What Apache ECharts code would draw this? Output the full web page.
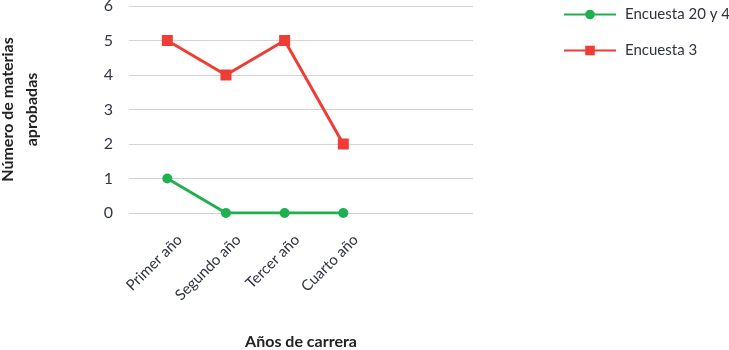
<!DOCTYPE html>
<html><head><meta charset="utf-8">
<script src="https://cdn.jsdelivr.net/npm/echarts@6/dist/echarts.min.js"></script>
<style>html,body{margin:0;padding:0;background:#fff}#c{width:729px;height:350px}</style>
</head><body><div id="c"></div>
<script>
const categories = ['Primer año', 'Segundo año', 'Tercer año', 'Cuarto año'];
const encuesta20y4 = [1, 0, 0, 0];
const encuesta3 = [5, 4, 5, 2];
const yTicks = [0, 1, 2, 3, 4, 5, 6];
const seriesNames = ['Encuesta 20 y 4', 'Encuesta 3'];

const FONT = 'Lato';
const chart = echarts.init(document.getElementById('c'), null, {renderer: 'canvas'});
chart.setOption({
  animation: false,
  textStyle: {fontFamily: FONT},
  legend: {
    orient: 'vertical', left: 558, top: 2, itemWidth: 52, itemHeight: 12, itemGap: 21,
    textStyle: {fontSize: 15, color: '#2f3340', fontFamily: FONT, padding: [0, 0, 0, 4]},
    data: seriesNames
  },
  grid: [
    {left: 129, right: 256, top: 6, bottom: 137, outerBoundsMode: 'none', containLabel: false},
    {left: 167.3, right: 385.7, top: 6, bottom: 137, outerBoundsMode: 'none', containLabel: false}
  ],
  xAxis: [
    {gridIndex: 0, type: 'value', min: 0, max: 1, axisLine: {show: false}, axisTick: {show: false},
     axisLabel: {show: false}, splitLine: {show: false},
     name: 'Años de carrera', nameLocation: 'middle', nameGap: 121,
     nameTextStyle: {fontSize: 16, fontWeight: 'bold', color: '#222', fontFamily: FONT}},
    {gridIndex: 1, type: 'category', data: categories, boundaryGap: false,
     axisLine: {show: false}, axisTick: {show: false}, splitLine: {show: false},
     axisLabel: {rotate: 45, margin: 12, fontSize: 15, color: '#2f3340', interval: 0,
                 verticalAlign: 'top', padding: [10, 0, 0, 0], fontFamily: FONT}}
  ],
  yAxis: [
    {gridIndex: 0, type: 'value', min: yTicks[0], max: yTicks[yTicks.length - 1], interval: 1,
     axisLine: {show: false}, axisTick: {show: false},
     axisLabel: {margin: 16, fontSize: 16, color: '#333845', fontFamily: FONT},
     splitLine: {lineStyle: {color: '#d3d3d3', width: 1}},
     name: 'Número de materias\naprobadas', nameLocation: 'middle', nameGap: 85,
     nameTextStyle: {fontSize: 16, fontWeight: 'bold', color: '#222', lineHeight: 24, fontFamily: FONT}},
    {gridIndex: 1, type: 'value', min: yTicks[0], max: yTicks[yTicks.length - 1], show: false, splitLine: {show: false}}
  ],
  series: [
    {name: seriesNames[0], type: 'line', xAxisIndex: 1, yAxisIndex: 1, data: encuesta20y4,
     symbol: 'circle', symbolSize: 10, lineStyle: {width: 3, color: '#1fb04f'},
     itemStyle: {color: '#1fb04f'}},
    {name: seriesNames[1], type: 'line', xAxisIndex: 1, yAxisIndex: 1, data: encuesta3,
     symbol: 'rect', symbolSize: 11, lineStyle: {width: 3, color: '#ef3d35'},
     itemStyle: {color: '#ef3d35'}}
  ]
});
</script></body></html>
